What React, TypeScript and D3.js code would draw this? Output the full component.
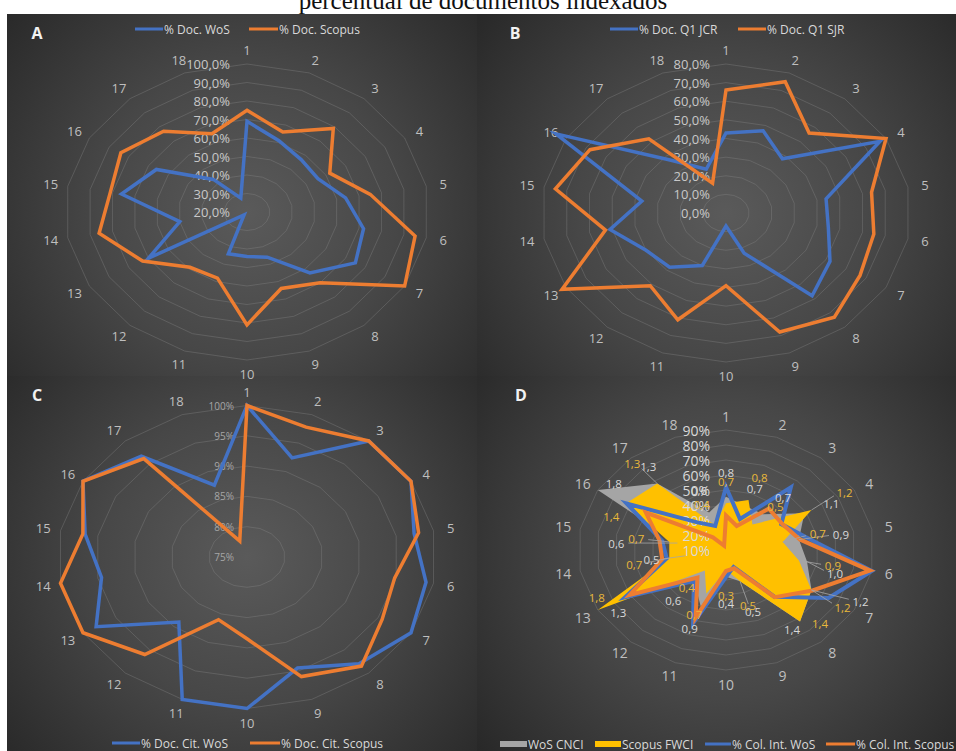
import React from 'react';
import * as d3 from 'd3';

// ---------- DATA ----------
const categories = ['1', '2', '3', '4', '5', '6', '7', '8', '9', '10', '11', '12', '13', '14', '15', '16', '17', '18'];

// Panel A
const docWoS = [69, 61, 57, 56, 64, 72, 75, 63, 46, 44, 44, 22, 70, 50, 76, 66, 43, 28];
const docScopus = [75, 66, 79, 62, 75, 95, 100, 70, 64, 81, 58, 59, 73, 86, 81, 84, 77, 65];
// Panel B
const q1JCR = [43, 47, 38, 77, 44, 45, 52, 58, 23, 7, 30, 38, 40, 51, 37, 85, 37, 25];
const q1SJR = [66, 75, 56, 80, 64, 65, 67, 73, 68, 39, 61, 51, 82, 53, 75, 68, 52, 17];
// Panel C
const citWoS = [100, 92.4, 100, 100, 97.4, 99, 100, 98, 94.5, 100, 100, 89, 98, 94.5, 96.7, 100, 96.7, 87.6];
const citScopus = [100, 97.8, 100, 100, 98, 94.8, 95.6, 98.5, 96, 88.5, 86, 96, 100, 100, 97, 100, 96.2, 77.8];
// Panel D
const colIntWoS = [52, 32, 64.5, 44.5, 55, 90, 74, 50.6, 22, 28, 62, 37, 73, 42.5, 45, 72, 34, 27];
const colIntScopus = [33, 27, 46, 45, 50.5, 89, 64, 51, 23, 24, 58, 34, 70, 45, 46.5, 60, 21, 13];
const wosCNCI = [0.8, 0.7, 0.7, 1.1, 0.9, 1.0, 1.2, 1.4, 0.5, 0.4, 0.9, 0.6, 1.3, 0.5, 0.6, 1.8, 1.3, 0.6];
const scopusFWCI = [0.7, 0.8, 0.5, 1.2, 0.7, 0.9, 1.2, 1.4, 0.5, 0.3, 0.7, 0.4, 1.8, 0.7, 0.7, 1.4, 1.3, 0.4];

// label offsets (layout only) for panel D data labels
const cnciLabelOffset: [number, number][] = [
  [0, -24], [9, -18], [20, -17], [27, -10], [42, -5], [28, 12], [49, 11], [-8, 8], [13, 30],
  [0, 27], [-11, 22], [-21, 20], [-15, 19], [-34, 4], [-61, 0], [16, -7], [-9, -17], [-10, -22],
];
const fwciLabelOffset: [number, number][] = [
  [0, -22], [11, -22], [23, -18], [33, -18], [35, -8], [34, 5], [31, 17], [20, 2], [8, 24],
  [0, 25], [-12, 21], [-18, 17], [-1, -13], [-35, 6], [-33, -3], [-15, 13], [-25, -20], [-13, -20],
];

const BLUE = '#4472C4';
const ORANGE = '#ED7D31';
const GRAY = '#A5A5A5';
const YELLOW = '#FFC000';
const FONT = "'Open Sans', 'Noto Sans', sans-serif";

type Panel = {
  id: string; x0: number; y0: number; w: number; h: number;
  cx: number; cy: number; R: number; s: number;
  min: number; max: number; step: number;
  fmt: (v: number) => string; tickSize: number; tickColor: string; tickDx: number;
  catSize: number;
};

const fmt1 = (v: number) => v.toFixed(1).replace('.', ',') + '%';
const fmt0 = (v: number) => v.toFixed(0) + '%';

const panels: Panel[] = [
  { id: 'A', x0: 7, y0: 14, w: 470, h: 362, cx: 247, cy: 212, R: 148, s: 1.23, min: 20, max: 100, step: 10, fmt: fmt1, tickSize: 13, tickColor: '#c8c8c8', tickDx: 17, catSize: 13 },
  { id: 'B', x0: 477, y0: 14, w: 479, h: 362, cx: 726, cy: 213, R: 149, s: 1.24, min: 0, max: 80, step: 10, fmt: fmt1, tickSize: 13, tickColor: '#c8c8c8', tickDx: 16, catSize: 13 },
  { id: 'C', x0: 7, y0: 376, w: 470, h: 375, cx: 247, cy: 557, R: 151.5, s: 1.25, min: 75, max: 100, step: 5, fmt: fmt0, tickSize: 10, tickColor: '#a6a6a6', tickDx: 13, catSize: 13 },
  { id: 'D', x0: 477, y0: 376, w: 479, h: 375, cx: 726, cy: 550, R: 120, s: 1.234, min: 10, max: 90, step: 10, fmt: fmt0, tickSize: 14, tickColor: '#d9d9d9', tickDx: 16, catSize: 14 },
];

const angle = d3.scaleLinear().domain([0, categories.length]).range([0, 2 * Math.PI]);

function pt(p: Panel, i: number, r: number): [number, number] {
  const a = angle(i);
  return [p.cx + p.s * r * Math.sin(a), p.cy - r * Math.cos(a)];
}

const closedLine = d3.line<[number, number]>().curve(d3.curveLinearClosed);

function rScale(p: Panel) {
  return d3.scaleLinear().domain([p.min, p.max]).range([0, p.R]);
}

function Grid({ p }: { p: Panel }) {
  const r = rScale(p);
  const ticks = d3.range(p.min + p.step, p.max + p.step / 2, p.step);
  return (
    <g>
      {ticks.map((t) => (
        <path key={t} d={closedLine(categories.map((_, i) => pt(p, i, r(t))))!}
          fill="none" stroke="#8a8a8a" strokeOpacity={0.35} strokeWidth={1} />
      ))}
      {categories.map((c, i) => {
        const [x, y] = pt(p, i, p.R + 14);
        return (
          <text key={c} x={x} y={y} fill="#bfbfbf" fontSize={p.catSize} fontFamily={FONT}
            textAnchor="middle" dominantBaseline="central">{c}</text>
        );
      })}
    </g>
  );
}

function TickLabels({ p }: { p: Panel }) {
  const r = rScale(p);
  const ticks = d3.range(p.min, p.max + p.step / 2, p.step);
  return (
    <g>
      {ticks.map((t) => (
        <text key={t} x={p.cx - p.tickDx} y={p.cy - r(t)} fill={p.tickColor} fontSize={p.tickSize}
          fontFamily={FONT} textAnchor="end" dominantBaseline="central">{p.fmt(t)}</text>
      ))}
    </g>
  );
}

function SeriesLine({ p, values, color, width = 3.5 }: { p: Panel; values: number[]; color: string; width?: number }) {
  const r = rScale(p);
  const pts = values.map((v, i) => pt(p, i, r(v)));
  return <path d={closedLine(pts)!} fill="none" stroke={color} strokeWidth={width} strokeLinejoin="miter" strokeMiterlimit={6} />;
}

function Legend({ y, items }: { y: number; items: { x: number; label: string; color: string; kind: 'line' | 'rect'; len: number }[] }) {
  return (
    <g>
      {items.map((it) => (
        <g key={it.label}>
          {it.kind === 'line'
            ? <line x1={it.x} x2={it.x + it.len} y1={y} y2={y} stroke={it.color} strokeWidth={3} />
            : <rect x={it.x} y={y - 3} width={it.len} height={6} fill={it.color} />}
          <text x={it.x + it.len + 1} y={y} fill="#d9d9d9" fontSize={12} fontFamily={FONT} dominantBaseline="central">{it.label}</text>
        </g>
      ))}
    </g>
  );
}

function PanelD({ p }: { p: Panel }) {
  const sec = d3.scaleLinear().domain([0, 1.8]).range([0, p.R]);
  const fmtV = (v: number) => v.toFixed(1).replace('.', ',');
  const cnciPts = wosCNCI.map((v, i) => pt(p, i, sec(v)));
  const fwciPts = scopusFWCI.map((v, i) => pt(p, i, sec(v)));
  const labels = (pts: [number, number][], vals: number[], offs: [number, number][], color: string) =>
    pts.map(([x, y], i) => {
      const [dx, dy] = offs[i];
      const dist = Math.hypot(dx, dy);
      return (
        <g key={i}>
          {dist > 30 && (
            <line x1={x} y1={y} x2={x + dx * (1 - 12 / dist)} y2={y + dy * (1 - 8 / dist)}
              stroke="#a6a6a6" strokeWidth={0.8} />
          )}
          <text x={x + dx} y={y + dy} fill={color} fontSize={11.5} fontFamily={FONT}
            textAnchor="middle" dominantBaseline="central">{fmtV(vals[i])}</text>
        </g>
      );
    });
  return (
    <g>
      <path d={closedLine(cnciPts)!} fill={GRAY} />
      <path d={closedLine(fwciPts)!} fill={YELLOW} />
      <TickLabels p={p} />
      <SeriesLine p={p} values={colIntWoS} color={BLUE} width={4} />
      <SeriesLine p={p} values={colIntScopus} color={ORANGE} width={4} />
      {labels(cnciPts, wosCNCI, cnciLabelOffset, '#d9d9d9')}
      {labels(fwciPts, scopusFWCI, fwciLabelOffset, '#e8b83a')}
    </g>
  );
}

export default function App() {
  const [A, B, C, D] = panels;
  return (
    <svg width={956} height={751} style={{ position: 'absolute', left: 0, top: 0, background: '#fff' }}>
      <defs>
        {panels.map((p) => (
          <radialGradient key={p.id} id={'bg' + p.id} gradientUnits="userSpaceOnUse"
            cx={p.cx} cy={p.cy} r={330}>
            <stop offset="0" stopColor="#5a5a5a" />
            <stop offset="0.45" stopColor="#474747" />
            <stop offset="1" stopColor="#262626" />
          </radialGradient>
        ))}
      </defs>
      <text x={483} y={9} fontFamily="'Liberation Serif', 'Times New Roman', serif" fontSize={25}
        textAnchor="middle" fill="#111">percentual de documentos indexados</text>
      {panels.map((p) => (
        <rect key={p.id} x={p.x0} y={p.y0} width={p.w} height={p.h} fill={`url(#bg${p.id})`} />
      ))}
      {panels.map((p) => (
        <text key={'l' + p.id} x={p.id === 'A' || p.id === 'C' ? 37 : (p.id === 'B' ? 515 : 521)}
          y={p.y0 + 19} fill="#f2f2f2" fontSize={16} fontWeight="bold" fontFamily={FONT}
          textAnchor="middle" dominantBaseline="central">{p.id}</text>
      ))}

      {/* Panel A */}
      <Grid p={A} />
      <TickLabels p={A} />
      <SeriesLine p={A} values={docWoS} color={BLUE} />
      <SeriesLine p={A} values={docScopus} color={ORANGE} />
      <Legend y={29} items={[
        { x: 135, label: '% Doc. WoS', color: BLUE, kind: 'line', len: 28 },
        { x: 249, label: '% Doc. Scopus', color: ORANGE, kind: 'line', len: 29 },
      ]} />

      {/* Panel B */}
      <Grid p={B} />
      <TickLabels p={B} />
      <SeriesLine p={B} values={q1JCR} color={BLUE} />
      <SeriesLine p={B} values={q1SJR} color={ORANGE} />
      <Legend y={29} items={[
        { x: 610, label: '% Doc. Q1 JCR', color: BLUE, kind: 'line', len: 28 },
        { x: 738, label: '% Doc. Q1 SJR', color: ORANGE, kind: 'line', len: 28 },
      ]} />

      {/* Panel C */}
      <Grid p={C} />
      <TickLabels p={C} />
      <SeriesLine p={C} values={citWoS} color={BLUE} />
      <SeriesLine p={C} values={citScopus} color={ORANGE} />
      <Legend y={743} items={[
        { x: 112, label: '% Doc. Cit. WoS', color: BLUE, kind: 'line', len: 28 },
        { x: 250, label: '% Doc. Cit. Scopus', color: ORANGE, kind: 'line', len: 30 },
      ]} />

      {/* Panel D */}
      <Grid p={D} />
      <PanelD p={D} />
      <Legend y={744} items={[
        { x: 500, label: 'WoS CNCI', color: GRAY, kind: 'rect', len: 27 },
        { x: 595, label: 'Scopus FWCI', color: YELLOW, kind: 'rect', len: 26 },
        { x: 705, label: '% Col. Int. WoS', color: BLUE, kind: 'line', len: 26 },
        { x: 826, label: '% Col. Int. Scopus', color: ORANGE, kind: 'line', len: 29 },
      ]} />
    </svg>
  );
}
